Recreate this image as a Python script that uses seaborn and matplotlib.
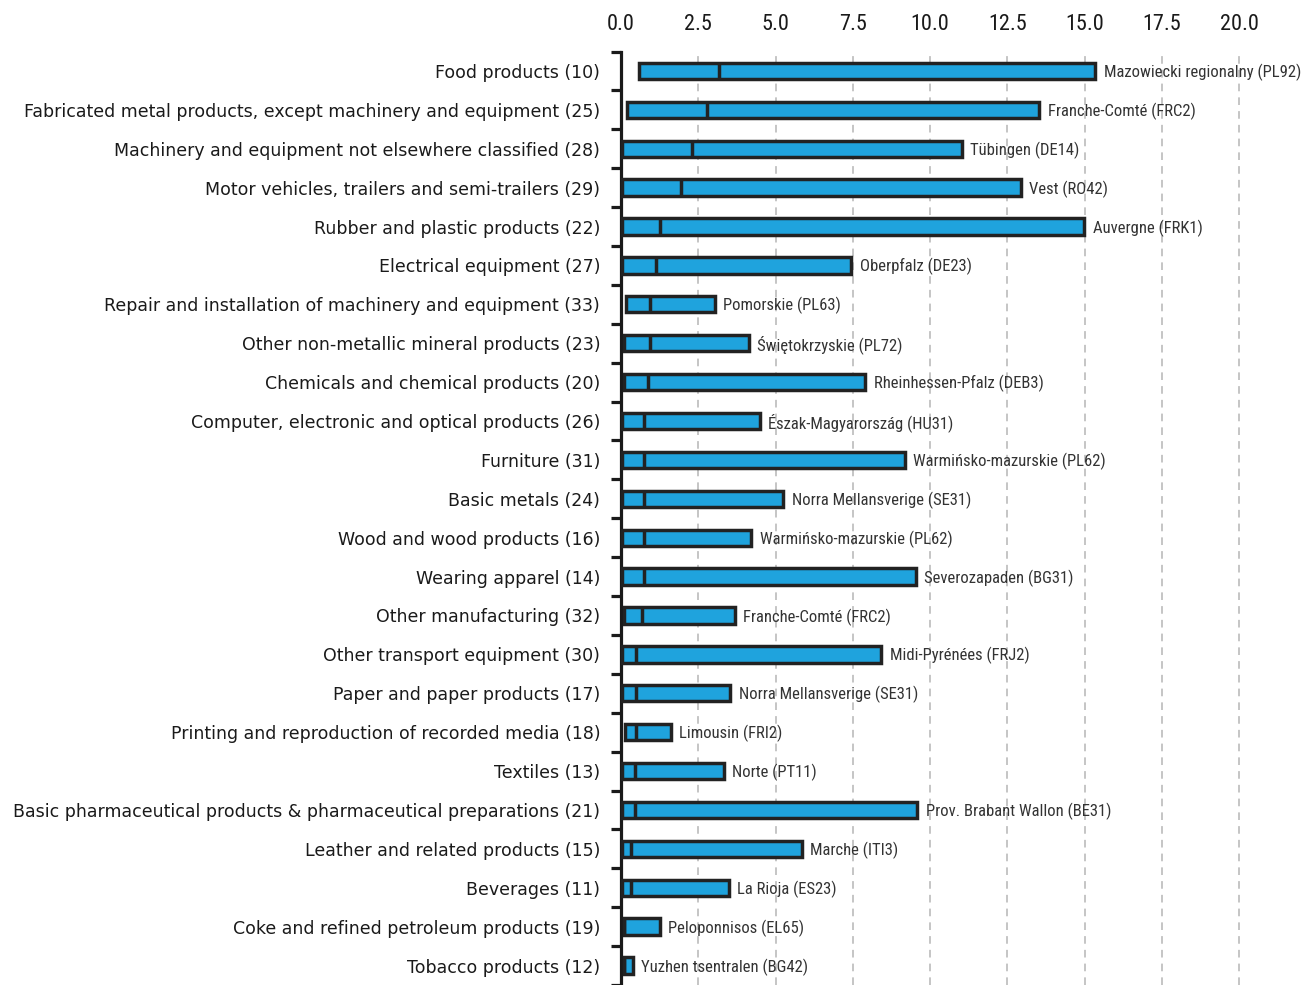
#!/usr/bin/env python3
"""Range of regional values per manufacturing sector, with median marker."""

import matplotlib.pyplot as plt
import numpy as np
import pandas as pd
import seaborn as sns

categories = [
    "Food products (10)",
    "Fabricated metal products, except machinery and equipment (25)",
    "Machinery and equipment not elsewhere classified (28)",
    "Motor vehicles, trailers and semi-trailers (29)",
    "Rubber and plastic products (22)",
    "Electrical equipment (27)",
    "Repair and installation of machinery and equipment (33)",
    "Other non-metallic mineral products (23)",
    "Chemicals and chemical products (20)",
    "Computer, electronic and optical products (26)",
    "Furniture (31)",
    "Basic metals (24)",
    "Wood and wood products (16)",
    "Wearing apparel (14)",
    "Other manufacturing (32)",
    "Other transport equipment (30)",
    "Paper and paper products (17)",
    "Printing and reproduction of recorded media (18)",
    "Textiles (13)",
    "Basic pharmaceutical products & pharmaceutical preparations (21)",
    "Leather and related products (15)",
    "Beverages (11)",
    "Coke and refined petroleum products (19)",
    "Tobacco products (12)",
]

top_regions = [
    "Mazowiecki regionalny (PL92)",
    "Franche-Comté (FRC2)",
    "Tübingen (DE14)",
    "Vest (RO42)",
    "Auvergne (FRK1)",
    "Oberpfalz (DE23)",
    "Pomorskie (PL63)",
    "Świętokrzyskie (PL72)",
    "Rheinhessen-Pfalz (DEB3)",
    "Észak-Magyarország (HU31)",
    "Warmińsko-mazurskie (PL62)",
    "Norra Mellansverige (SE31)",
    "Warmińsko-mazurskie (PL62)",
    "Severozapaden (BG31)",
    "Franche-Comté (FRC2)",
    "Midi-Pyrénées (FRJ2)",
    "Norra Mellansverige (SE31)",
    "Limousin (FRI2)",
    "Norte (PT11)",
    "Prov. Brabant Wallon (BE31)",
    "Marche (ITI3)",
    "La Rioja (ES23)",
    "Peloponnisos (EL65)",
    "Yuzhen tsentralen (BG42)",
]

min_vals = [0.57, 0.20, 0.02, 0.02, 0.02, 0.02, 0.17, 0.09, 0.09, 0.02, 0.02, 0.02,
            0.02, 0.02, 0.09, 0.02, 0.02, 0.13, 0.02, 0.02, 0.02, 0.02, 0.09, 0.09]
median_vals = [3.17, 2.77, 2.30, 1.94, 1.26, 1.14, 0.93, 0.93, 0.86, 0.75, 0.75, 0.75,
               0.75, 0.75, 0.68, 0.49, 0.49, 0.49, 0.46, 0.46, 0.32, 0.32, 0.09, 0.09]
max_vals = [15.35, 13.54, 11.03, 12.93, 14.99, 7.45, 3.03, 4.14, 7.91, 4.50, 9.19, 5.25,
            4.22, 9.55, 3.68, 8.43, 3.54, 1.62, 3.32, 9.59, 5.86, 3.49, 1.25, 0.38]

x_ticks = [0.0, 2.5, 5.0, 7.5, 10.0, 12.5, 15.0, 17.5, 20.0]

BAR_COLOR = "#1FA3DD"
EDGE = "#222222"
BAR_H = 0.42
NARROW = ["Roboto Condensed", "Roboto", "DejaVu Sans"]


def main():
    df = pd.DataFrame({"category": categories, "region": top_regions,
                       "min": min_vals, "median": median_vals, "max": max_vals})

    sns.set_theme(style="white")
    plt.rcParams["font.family"] = ["DejaVu Sans"]

    fig = plt.figure(figsize=(13.03, 9.85), dpi=100)
    ax = fig.add_axes([621 / 1303, 0.0, 682 / 1303, (985 - 51.5) / 985])

    sns.barplot(data=df, x="max", y="category", orient="h", color=BAR_COLOR,
                saturation=1, edgecolor=EDGE, linewidth=2.5, width=BAR_H, ax=ax,
                zorder=3)
    # shift each bar so it spans min..max
    for patch, lo, hi in zip(ax.patches, df["min"], df["max"]):
        patch.set_x(lo)
        patch.set_width(hi - lo)

    ypos = np.arange(len(df))
    ax.vlines(df["median"], ypos - BAR_H / 2, ypos + BAR_H / 2, color=EDGE,
              linewidth=2.5, zorder=4)

    for y, hi, reg in zip(ypos, df["max"], df["region"]):
        ax.annotate(reg, (hi, y), xytext=(6, -1), textcoords="offset points",
                    ha="left", va="center", fontsize=12, fontstretch="condensed",
                    color="#333333", family=NARROW, zorder=5)

    ax.set_xlim(0, 682 / 30.9)
    ax.set_ylim(len(df) - 0.5, -0.5)
    ax.set_xlabel("")
    ax.set_ylabel("")

    # top tick labels, dashed vertical grid
    ax.set_xticks(x_ticks)
    ax.set_xticklabels([f"{t:.1f}" for t in x_ticks], family=NARROW,
                       fontstretch="condensed", fontsize=16, color="#1a1a1a")
    ax.xaxis.tick_top()
    ax.tick_params(axis="x", length=0, pad=12)
    for t in x_ticks[1:]:
        ax.axvline(t, color="#b5b5b5", linestyle=(0, (5, 4)), linewidth=1.1,
                   zorder=1)

    # category labels, bracket ticks between categories
    ax.tick_params(axis="y", which="major", length=0, pad=15, labelsize=12.5,
                   labelcolor="#1a1a1a")
    ax.set_yticks(np.arange(-0.5, len(df), 1.0), minor=True)
    ax.tick_params(axis="y", which="minor", left=True, length=7.5, width=2.3,
                   color="#1a1a1a", direction="out")

    for side in ["top", "right", "bottom"]:
        ax.spines[side].set_visible(False)
    ax.spines["left"].set_linewidth(2.3)
    ax.spines["left"].set_color("#1a1a1a")
    ax.grid(False)

    fig.savefig("out.png", dpi=100)
    plt.close(fig)


if __name__ == "__main__":
    main()
